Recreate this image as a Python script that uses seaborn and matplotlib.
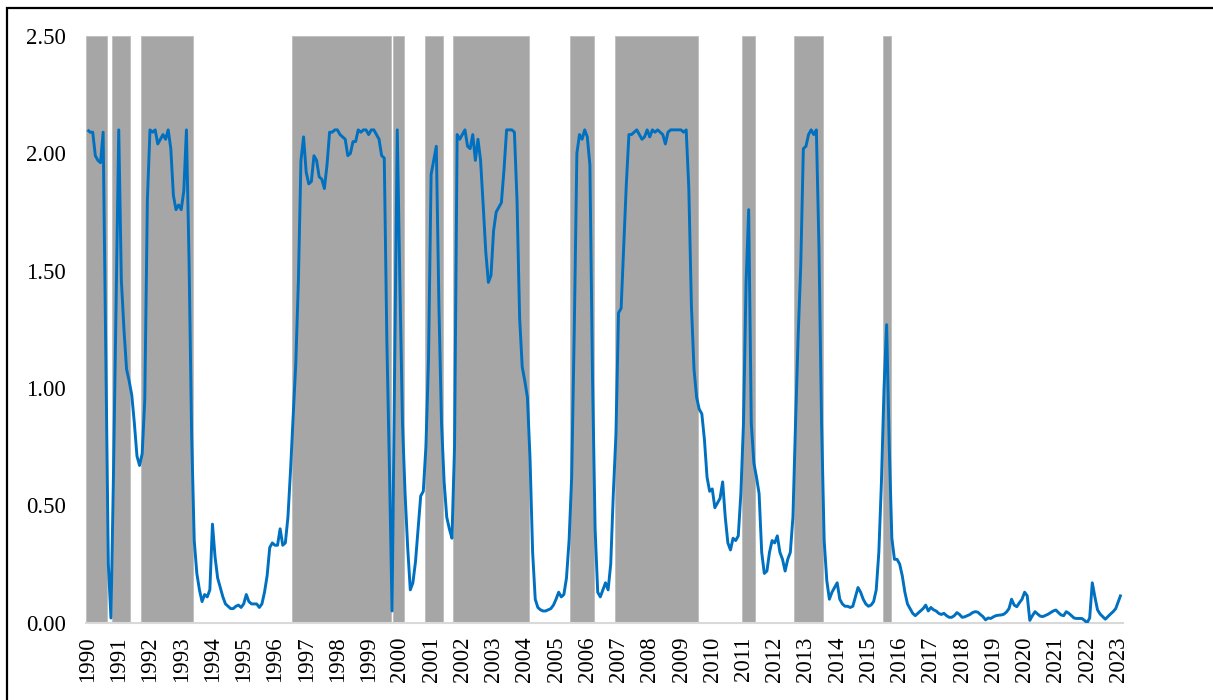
import numpy as np
import pandas as pd
import matplotlib
matplotlib.use("Agg")
import matplotlib.pyplot as plt
from matplotlib.patches import Rectangle
import seaborn as sns

# Monthly series, January 1990 onwards (one row per year)
start_month = "1990-01"
values = [
    2.10, 2.09, 2.09, 1.99, 1.97, 1.96, 2.09, 1.15, 0.25, 0.02, 0.65, 1.37,   # 1990
    2.10, 1.46, 1.25, 1.08, 1.03, 0.97, 0.85, 0.71, 0.67, 0.72, 0.95, 1.80,   # 1991
    2.10, 2.09, 2.10, 2.04, 2.06, 2.08, 2.06, 2.10, 2.02, 1.82, 1.76, 1.78,   # 1992
    1.76, 1.84, 2.10, 1.55, 0.80, 0.35, 0.21, 0.14, 0.09, 0.12, 0.11, 0.14,   # 1993
    0.42, 0.28, 0.19, 0.15, 0.11, 0.08, 0.07, 0.06, 0.06, 0.07, 0.075, 0.065, # 1994
    0.08, 0.12, 0.09, 0.08, 0.08, 0.08, 0.065, 0.08, 0.13, 0.20, 0.32, 0.34,  # 1995
    0.33, 0.33, 0.40, 0.33, 0.34, 0.45, 0.65, 0.88, 1.10, 1.45, 1.97, 2.07,   # 1996
    1.92, 1.87, 1.88, 1.99, 1.97, 1.90, 1.89, 1.85, 1.95, 2.09, 2.09, 2.10,   # 1997
    2.10, 2.08, 2.07, 2.06, 1.99, 2.00, 2.05, 2.05, 2.10, 2.09, 2.10, 2.10,   # 1998
    2.08, 2.10, 2.10, 2.08, 2.06, 1.99, 1.98, 1.20, 0.65, 0.05, 1.10, 2.10,   # 1999
    1.45, 0.85, 0.55, 0.32, 0.14, 0.17, 0.26, 0.40, 0.54, 0.56, 0.75, 1.12,   # 2000
    1.91, 1.97, 2.03, 1.35, 0.85, 0.60, 0.45, 0.40, 0.36, 0.75, 2.08, 2.06,   # 2001
    2.08, 2.10, 2.03, 2.02, 2.08, 1.97, 2.06, 1.97, 1.78, 1.58, 1.45, 1.48,   # 2002
    1.67, 1.75, 1.77, 1.79, 1.93, 2.10, 2.10, 2.10, 2.09, 1.80, 1.30, 1.09,   # 2003
    1.03, 0.96, 0.70, 0.30, 0.10, 0.065, 0.055, 0.05, 0.05, 0.055, 0.06, 0.075, # 2004
    0.10, 0.13, 0.11, 0.12, 0.19, 0.35, 0.62, 1.25, 2.00, 2.08, 2.06, 2.10,   # 2005
    2.07, 1.95, 1.05, 0.40, 0.13, 0.11, 0.14, 0.17, 0.14, 0.25, 0.55, 0.80,   # 2006
    1.32, 1.34, 1.60, 1.87, 2.08, 2.08, 2.09, 2.10, 2.08, 2.06, 2.07, 2.10,   # 2007
    2.07, 2.10, 2.09, 2.10, 2.09, 2.08, 2.04, 2.09, 2.10, 2.10, 2.10, 2.10,   # 2008
    2.10, 2.09, 2.10, 1.85, 1.35, 1.08, 0.96, 0.91, 0.89, 0.78, 0.62, 0.56,   # 2009
    0.57, 0.49, 0.51, 0.53, 0.60, 0.45, 0.34, 0.31, 0.36, 0.35, 0.37, 0.55,   # 2010
    0.85, 1.45, 1.76, 0.85, 0.68, 0.62, 0.55, 0.30, 0.21, 0.22, 0.30, 0.35,   # 2011
    0.34, 0.37, 0.30, 0.27, 0.22, 0.27, 0.30, 0.45, 0.85, 1.22, 1.52, 2.02,   # 2012
    2.03, 2.08, 2.10, 2.08, 2.10, 1.60, 0.85, 0.35, 0.18, 0.10, 0.13, 0.15,   # 2013
    0.17, 0.10, 0.08, 0.07, 0.07, 0.065, 0.07, 0.11, 0.15, 0.13, 0.10, 0.08,  # 2014
    0.07, 0.075, 0.09, 0.14, 0.30, 0.60, 1.00, 1.27, 0.75, 0.36, 0.27, 0.27,  # 2015
    0.25, 0.20, 0.13, 0.08, 0.06, 0.04, 0.03, 0.04, 0.05, 0.06, 0.075, 0.05,  # 2016
    0.065, 0.055, 0.05, 0.04, 0.035, 0.04, 0.03, 0.023, 0.023, 0.03, 0.043, 0.035, # 2017
    0.023, 0.025, 0.03, 0.035, 0.043, 0.047, 0.045, 0.035, 0.026, 0.012, 0.02, 0.018, # 2018
    0.025, 0.03, 0.032, 0.033, 0.036, 0.045, 0.06, 0.10, 0.075, 0.068, 0.085, 0.10,   # 2019
    0.13, 0.115, 0.01, 0.03, 0.047, 0.037, 0.028, 0.026, 0.031, 0.036, 0.043, 0.05,   # 2020
    0.054, 0.043, 0.033, 0.03, 0.047, 0.04, 0.03, 0.02, 0.018, 0.018, 0.018, 0.01,    # 2021
    0.0, 0.02, 0.17, 0.11, 0.055, 0.037, 0.026, 0.015, 0.026, 0.037, 0.047, 0.06,     # 2022
    0.09, 0.12,                                                                        # 2023
]

# Shaded regime periods (first and last month, inclusive)
regime_starts = ["1990-01", "1990-11", "1991-10", "1996-08", "1999-11", "2000-11",
                 "2001-10", "2005-07", "2006-12", "2011-01", "2012-09", "2015-07"]
regime_ends = ["1990-08", "1991-05", "1993-05", "1999-09", "2000-02", "2001-05",
               "2004-02", "2006-03", "2009-07", "2011-05", "2013-07", "2015-09"]

years = list(range(1990, 2024))
y_ticks = [0.0, 0.5, 1.0, 1.5, 2.0, 2.5]

dates = pd.period_range(start_month, periods=len(values), freq="M")
idx = np.arange(len(values))


def month_index(label):
    return (pd.Period(label, freq="M") - dates[0]).n


sns.set_theme(style="white")
plt.rcParams["font.family"] = ["Liberation Serif", "DejaVu Serif"]
plt.rcParams["font.size"] = 16.5

W, H = 1213, 700
fig = plt.figure(figsize=(W / 100, H / 100), dpi=100)
fig.patch.set_facecolor("white")

ax = fig.add_axes([86 / W, 1 - 622.7 / H, (1123 - 86) / W, (622.7 - 36) / H])
ax.set_facecolor("white")

# regime shading as full-height columns
top = y_ticks[-1]
for s, e in zip(regime_starts, regime_ends):
    i0, i1 = month_index(s), month_index(e)
    ax.bar(i0 - 0.5, top, width=i1 - i0 + 1, align="edge",
           color="#A6A6A6", edgecolor="#BDBDBD", linewidth=0.6, zorder=1)

sns.lineplot(x=idx, y=values, ax=ax, color="#0070C0", linewidth=2.1,
             zorder=3, solid_joinstyle="round", solid_capstyle="butt")

ax.set_xlim(-0.58, 397.8)
ax.set_ylim(0, top)

ax.set_yticks(y_ticks)
ax.set_yticklabels([f"{v:.2f}" for v in y_ticks])
ax.set_xticks([month_index(f"{y}-01") for y in years])
ax.set_xticklabels([str(y) for y in years], rotation=90, va="top", ha="center")
ax.tick_params(axis="y", length=0, pad=14.5, labelsize=16.5, colors="black")
ax.tick_params(axis="x", length=0, pad=10, labelsize=16.5, colors="black")
ax.set_xlabel("")
ax.set_ylabel("")

for side in ("left", "top", "right"):
    ax.spines[side].set_visible(False)
ax.spines["bottom"].set_color("#D9D9D9")
ax.spines["bottom"].set_linewidth(1.5)
ax.spines["bottom"].set_zorder(2)

# outer frame
fig.patches.append(Rectangle((7 / W, -0.2), 1.5, 1.2 - 7.5 / H,
                             transform=fig.transFigure, fill=False,
                             edgecolor="black", linewidth=1.6))

fig.savefig("out.png", dpi=100, facecolor="white")
